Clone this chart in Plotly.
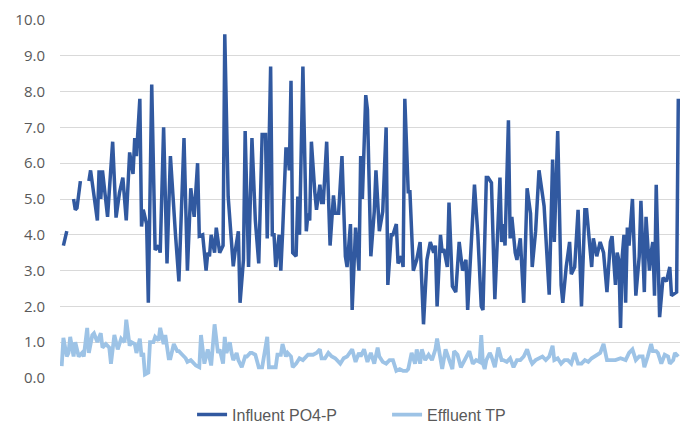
import plotly.graph_objects as go

# Influent PO4-P (day index, value); None marks gaps in the record
inf_days = [2, 4, 6,
            8, 9, 10, 12, 14,
            17, 18, 22, 23, 24, 25, 28, 31, 33, 35, 37, 39, 41, 43, 44, 45, 47, 48, 49, 51, 52, 54,
            56, 58, 59, 61, 63, 65, 68, 70, 73, 75, 77, 79, 81, 82, 84, 86, 87, 88, 89, 91, 92, 94,
            96, 97, 99, 102, 103, 105, 106, 108, 109, 111, 113, 115, 117, 119, 121, 122, 124, 125, 126,
            127, 129, 130, 131, 133, 134, 135, 136, 137, 139, 140, 141, 143, 145, 146, 147, 148, 150,
            151, 153, 154, 155, 157, 159, 161, 162, 164, 166, 168, 169, 171, 172, 174, 176, 177, 178,
            180, 181, 183, 185, 186, 188, 190, 192, 193, 195, 196, 198, 199, 201, 202, 203, 205, 206,
            208, 210, 212, 214, 216, 218, 220, 221, 222, 224, 225, 226, 228, 229, 231, 233, 235, 237,
            238, 239, 240, 244, 246, 248, 249, 251, 252, 254, 256, 259, 260, 261, 262, 264, 265, 266,
            268, 269, 271, 273, 275, 277, 278, 280, 282, 284, 285, 288, 290, 291, 293, 295, 296, 298,
            300, 301, 303, 305, 307, 309, 310, 313, 314, 316, 318, 320, 322, 324, 325, 327, 328, 329,
            330, 331, 332, 333, 334, 335, 337, 339, 341, 342, 344, 345, 347, 348, 349, 350, 351, 353,
            355, 357, 359, 360, 362, 363, 364]
inf_vals = [3.7, 4.1, None,
            5.0, 4.7, 4.75, 5.5, None,
            5.5, 5.8, 4.4, 5.8, 5.0, 5.8, 4.5, 6.6, 4.48, 5.17, 5.6, 4.4, 6.3, 5.7, 6.7, 6.2, 7.8, 4.23, 4.7, 4.3, 2.1, 8.2,
            3.58, 3.7, 3.5, 7.0, 3.2, 6.2, 4.0, 2.7, 6.7, 3.0, 5.3, 4.5, 6.0, 3.96, 4.0, 3.0, 3.5, 3.4, 4.0, 3.5, 4.2, 3.5,
            3.7, 9.6, 5.07, 3.12, 3.5, 4.1, 2.1, 3.3, 6.9, 3.1, 6.7, 4.4, 3.2, 6.8, 6.8, 3.9, 8.7, 4.0, 4.0,
            3.1, 4.0, 3.0, 4.0, 6.4, 6.4, 5.8, 8.3, 3.5, 3.4, 5.07, 4.0, 8.7, 4.1, 4.6, 4.4, 6.6, 5.2,
            4.7, 5.4, 4.9, 4.9, 6.6, 3.7, 5.1, 4.6, 4.6, 6.2, 3.4, 3.1, 4.3, 1.9, 4.2, 3.0, 6.2, 5.0,
            7.9, 7.5, 3.4, 4.65, 5.8, 4.1, 4.65, 7.0, 2.6, 4.0, 4.0, 4.3, 3.2, 3.4, 3.1, 7.8, 5.2, 5.2,
            3.0, 3.3, 3.8, 1.5, 3.3, 3.8, 3.5, 3.7, 2.0, 4.0, 3.5, 3.6, 3.1, 4.9, 2.56, 2.4, 3.8, 3.0,
            3.2, 3.3, 1.9, 5.4, 4.0, 2.0, 1.9, 5.6, 5.6, 5.45, 2.2, 5.6, 3.8, 4.3, 3.7, 7.2, 3.9, 4.5,
            3.5, 3.3, 3.9, 2.1, 5.3, 4.6, 3.1, 4.1, 5.8, 5.0, 4.8, 2.33, 6.1, 3.8, 6.9, 2.6, 2.1, 3.1,
            3.8, 2.9, 3.1, 4.7, 2.0, 4.7, 4.7, 3.1, 3.9, 3.4, 3.8, 3.5, 2.4, 3.8, 3.96, 2.6, 3.5, 3.3,
            1.4, 3.4, 4.0, 2.1, 4.2, 3.7, 5.0, 2.3, 3.4, 4.95, 2.4, 4.5, 3.0, 3.5, 3.8, 2.3, 5.4, 1.7,
            2.8, 2.7, 3.1, 2.3, 2.35, 2.4, 7.8]

# Effluent TP (day index, value)
eff_days = [1, 2, 4, 5, 6, 8, 9, 11, 13, 14, 16, 17, 19, 20, 22, 24, 25, 27, 29, 30, 32, 34, 36, 38,
            39, 41, 42, 44, 45, 47, 48, 49, 50, 52, 53, 55, 56, 58, 59, 61, 62, 64, 65, 67, 69, 70,
            72, 74, 75, 77, 78, 80, 82, 83, 85, 87, 89, 91, 93, 94, 96, 97, 98, 100, 101, 102, 104,
            105, 107, 109, 110, 112, 113, 115, 117, 119, 122, 123, 125, 127, 128, 130, 131, 133, 134,
            136, 137, 139, 141, 143, 146, 149, 151, 153, 154, 156, 158, 160, 162, 165, 167, 169, 172,
            174, 176, 177, 179, 181, 183, 185, 187, 188, 190, 192, 194, 196, 198, 200, 202, 204, 205,
            207, 209, 210, 212, 213, 215, 217, 219, 221, 222, 224, 225, 227, 229, 231, 232, 234, 236,
            238, 241, 243, 245, 247, 248, 249, 250, 251, 253, 254, 256, 258, 260, 261, 263, 265, 267,
            269, 271, 273, 275, 277, 278, 280, 282, 284, 286, 288, 290, 291, 293, 295, 297, 299, 301,
            303, 305, 307, 309, 311, 313, 315, 318, 320, 322, 324, 327, 330, 333, 335, 337, 339, 341,
            343, 344, 346, 348, 349, 351, 352, 354, 356, 358, 359, 361, 362, 364]
eff_vals = [0.33, 1.12, 0.6, 0.7, 1.15, 0.6, 1.0, 0.6, 0.7, 0.6, 1.4, 0.7, 1.2, 1.25, 1.0, 1.25, 0.85, 0.95, 0.85, 0.4, 1.2, 0.8, 1.1, 1.0,
            1.63, 0.9, 1.0, 0.95, 0.7, 1.1, 0.6, 0.7, 0.1, 0.15, 1.0, 1.0, 1.15, 1.05, 1.4, 0.95, 1.2, 0.55, 0.55, 0.95, 0.75, 0.75,
            0.65, 0.55, 0.45, 0.5, 0.45, 0.35, 0.3, 1.2, 0.4, 0.8, 0.35, 1.5, 0.7, 0.8, 0.4, 1.15, 0.7, 1.0, 0.7, 0.5, 0.7,
            0.5, 0.3, 0.6, 0.6, 0.7, 0.7, 0.65, 0.3, 0.3, 1.15, 0.3, 0.3, 0.3, 0.65, 0.65, 0.95, 0.6, 0.7,
            0.6, 0.3, 0.4, 0.55, 0.5, 0.65, 0.65, 0.7, 0.8, 0.55, 0.55, 0.7, 0.6, 0.55, 0.4, 0.55, 0.6, 0.8,
            0.45, 0.7, 0.6, 0.8, 0.45, 0.7, 0.4, 0.85, 0.6, 0.45, 0.4, 0.5, 0.5, 0.2, 0.25, 0.2, 0.2, 0.25,
            0.7, 0.4, 0.8, 0.4, 0.8, 0.5, 0.65, 0.5, 0.8, 1.1, 0.5, 0.25, 0.8, 0.5, 0.25, 0.75, 0.65, 0.3,
            0.5, 0.75, 0.4, 0.5, 0.45, 1.2, 0.4, 0.25, 0.5, 0.7, 0.6, 0.3, 0.85, 0.5, 0.5, 0.45, 0.55, 0.3,
            0.5, 0.5, 0.6, 0.8, 0.5, 0.4, 0.5, 0.55, 0.6, 0.5, 0.6, 0.9, 0.5, 0.55, 0.4, 0.5, 0.5, 0.4,
            0.7, 0.4, 0.4, 0.5, 0.45, 0.55, 0.6, 0.7, 0.95, 0.5, 0.5, 0.5, 0.55, 0.5, 0.7, 0.8, 0.5, 0.6,
            0.6, 0.3, 0.6, 0.95, 0.75, 0.75, 0.7, 0.4, 0.65, 0.6, 0.4, 0.5, 0.7, 0.6]

y_ticks = [0, 1, 2, 3, 4, 5, 6, 7, 8, 9, 10]

fig = go.Figure()
fig.add_trace(go.Scatter(x=inf_days, y=inf_vals, mode="lines", name="Influent PO4-P",
                         line=dict(color="#3159A0", width=3.5), connectgaps=False,
                         cliponaxis=False))
fig.add_trace(go.Scatter(x=eff_days, y=eff_vals, mode="lines", name="Effluent TP",
                         line=dict(color="#9DC3E6", width=3.8), cliponaxis=False))

fig.update_layout(
    width=680, height=426,
    margin=dict(l=60, r=0, t=20, b=48, autoexpand=False),
    paper_bgcolor="white", plot_bgcolor="white",
    font=dict(family="Liberation Sans", color="#595959"),
    showlegend=True,
    legend=dict(orientation="h", x=0.213, xanchor="left", y=-0.055, yanchor="top",
                font=dict(size=16, color="#595959"), entrywidth=150,
                bgcolor="rgba(0,0,0,0)"),
    xaxis=dict(range=[0, 365], showgrid=False, showticklabels=False, zeroline=False,
               showline=False, ticks="", automargin=False),
    yaxis=dict(range=[0, 10], tickvals=y_ticks, tickformat=".1f", showgrid=True,
               gridcolor="#D9D9D9", gridwidth=1, zeroline=False, showline=False,
               tickfont=dict(family="Open Sans", size=15, color="#595959"),
               ticklabelstandoff=14, automargin=False),
)

# remove the default 8px page margin so the figure fills the window exactly
fig.write_html("out.html",
               config={"displayModeBar": False},
               post_script="document.body.style.margin='0';document.body.style.overflow='hidden';")
